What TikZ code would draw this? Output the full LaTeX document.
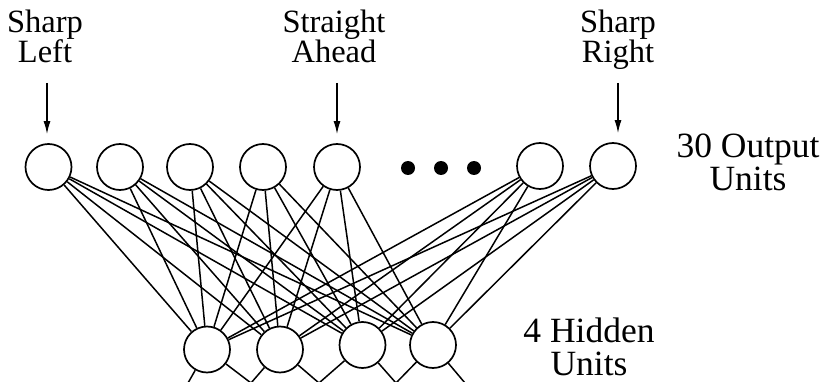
\documentclass[tikz,border=0pt]{standalone}
\usepackage{fontspec}
\setmainfont{Liberation Serif}
\usetikzlibrary{arrows.meta}
% two centred lines; the box's baseline is that of the first line
\newcommand\twolines[2]{\vtop{\halign{\hfil##\hfil\cr #1\cr #2\cr}}}
\begin{document}
\begin{tikzpicture}[x=1pt,y=-1pt,
  unit/.style={circle,draw,line width=1.7pt,minimum size=46pt,inner sep=0pt,fill=white},
  link/.style={line width=1.5pt},
  outarrow/.style={line width=1.4pt,-{Latex[length=13pt,width=7pt]}},
  dot/.style={circle,fill=black,minimum size=14pt,inner sep=0pt},
  toplabel/.style={anchor=base,inner sep=0pt,font=\fontsize{32.5}{30}\selectfont},
  sidelabel/.style={anchor=base,inner sep=0pt,font=\fontsize{35.5}{33}\selectfont}]
\clip (0,0) rectangle (827,382);
\fill[white] (0,0) rectangle (827,382);

% labels
\node[toplabel] (l1) at (45,33) {\twolines{Sharp}{Left}};
\node[toplabel] (l2) at (334,33) {\twolines{Straight}{Ahead}};
\node[toplabel] (l3) at (618,33) {\twolines{Sharp}{Right}};
\node[sidelabel] (lo) at (748,158) {\twolines{30 Output}{Units}};
\node[sidelabel] (lh) at (589,342) {\twolines{4 Hidden}{Units}};

% hidden layer
\node[unit] (h1) at (207,349.5) {};
\node[unit] (h2) at (280,349.5) {};
\node[unit] (h3) at (362.5,345) {};
\node[unit] (h4) at (433,345) {};

% output layer
\node[unit] (o1) at (48.5,167) {};
\node[unit] (o2) at (120,167) {};
\node[unit] (o3) at (190,167) {};
\node[unit] (o4) at (263,167) {};
\node[unit] (o5) at (337,167) {};
\node[unit] (o6) at (540,166) {};
\node[unit] (o7) at (613,166) {};

\node[dot] (d1) at (408,168) {};
\node[dot] (d2) at (441,168) {};
\node[dot] (d3) at (474,168) {};

% full connections output <-> hidden
\foreach \o in {1,...,7}
  \foreach \h in {1,...,4}
    \draw[link] (o\o) -- (h\h);

% connections leaving the hidden layer downwards
\coordinate (b1) at (188,383);
\coordinate (b2) at (251,383);
\coordinate (b3) at (319,383);
\coordinate (b4) at (396,383);
\coordinate (b5) at (465,383);
\draw[link] (h1) -- (b1);
\draw[link] (h1) -- (b2);
\draw[link] (h2) -- (b2);
\draw[link] (h2) -- (b3);
\draw[link] (h3) -- (b3);
\draw[link] (h3) -- (b4);
\draw[link] (h4) -- (b4);
\draw[link] (h4) -- (b5);

% arrows into the marked output units
\coordinate (t1) at (47,83);
\coordinate (t2) at (337,83);
\coordinate (t3) at (618,83);
\draw[outarrow] (t1) -- ([yshift=9pt]t1 |- o1.north);
\draw[outarrow] (t2) -- ([yshift=9pt]t2 |- o5.north);
\draw[outarrow] (t3) -- ([yshift=9pt]t3 |- o7.north);
\end{tikzpicture}
\end{document}
